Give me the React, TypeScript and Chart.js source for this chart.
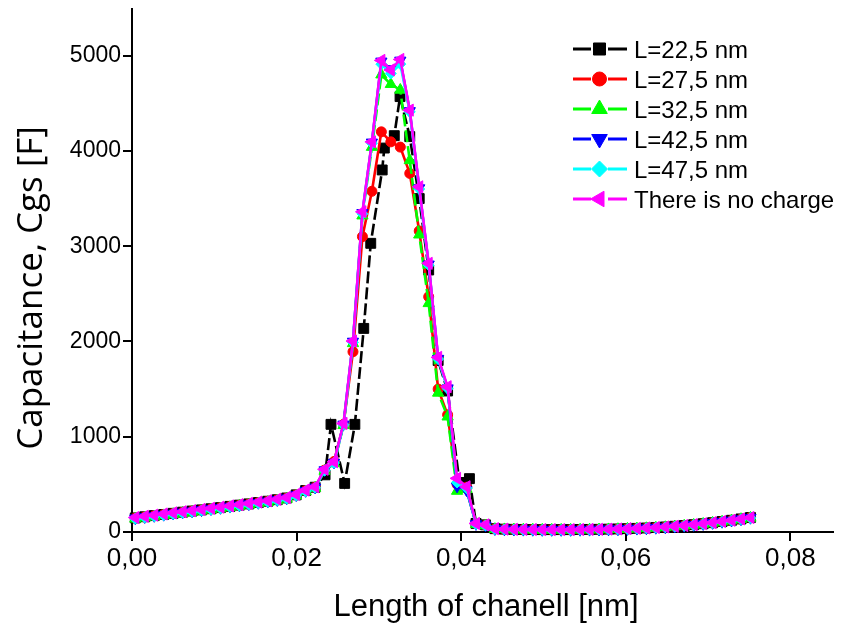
import React, { useEffect, useRef } from "react";
import { Chart, registerables } from "chart.js";
import { drawPoint } from "chart.js/helpers";

Chart.register(...registerables);

// ---- data ----
const X = [
  0.0004, 0.00155, 0.0027, 0.00385, 0.005, 0.00615, 0.0073, 0.00845, 0.0096, 0.01075,
  0.0119, 0.01305, 0.0142, 0.01535, 0.0165, 0.01765, 0.0188, 0.01995, 0.0211, 0.02225,
  0.0234, 0.02455, 0.0257, 0.02685, 0.028, 0.02915, 0.0303, 0.03145, 0.0326, 0.03375,
  0.0349, 0.03605, 0.0372, 0.03835, 0.0395, 0.04065, 0.0418, 0.04295, 0.0441, 0.04525,
  0.0464, 0.04755, 0.0487, 0.04985, 0.051, 0.05215, 0.0533, 0.05445, 0.0556, 0.05675,
  0.0579, 0.05905, 0.0602, 0.06135, 0.0625, 0.06365, 0.0648, 0.06595, 0.0671, 0.06825,
  0.0694, 0.07055, 0.0717, 0.07285, 0.074, 0.07515,
];

const X_L22 = [
  0.0004, 0.00155, 0.0027, 0.00385, 0.005, 0.00615, 0.0073, 0.00845, 0.0096, 0.01075,
  0.0119, 0.01305, 0.0142, 0.01535, 0.0165, 0.01765, 0.0188, 0.01995, 0.0211, 0.02225,
  0.02346, 0.02418, 0.02584, 0.02708, 0.02816, 0.02901, 0.0304, 0.03066, 0.03187, 0.03257,
  0.03375, 0.0349, 0.03605, 0.0372, 0.03835, 0.0398, 0.0410, 0.0418, 0.04295, 0.0441,
  0.04525, 0.0464, 0.04755, 0.0487, 0.04985, 0.051, 0.05215, 0.0533, 0.05445, 0.0556,
  0.05675, 0.0579, 0.05905, 0.0602, 0.06135, 0.0625, 0.06365, 0.0648, 0.06595, 0.0671,
  0.06825, 0.0694, 0.07055, 0.0717, 0.07285, 0.074, 0.07515,
];

const C_L22 = [
  148, 160, 172, 184, 196, 208, 220, 232, 244, 256, 269, 282, 295, 309, 323, 339, 357, 390, 435, 470,
  600, 1130, 510, 1130, 2137, 3030, 3800, 4030, 4160, 4570,
  4150, 3500, 2750, 1800, 1480, 520, 560, 90, 75, 35,
  30, 28, 27, 26, 25, 25, 25, 25, 26, 27,
  28, 30, 32, 35, 38, 42, 47, 53, 60, 68,
  77, 87, 98, 110, 123, 137, 152,
];

const C_L27 = [
  146, 159, 171, 183, 195, 207, 219, 231, 243, 255, 268, 281, 294, 308, 322, 338, 356, 389, 434, 470,
  650, 740, 1130, 1892, 3100, 3576, 4200, 4095, 4040, 3764,
  3160, 2469, 1500, 1230, 500, 470, 88, 72, 33, 29,
  27, 26, 25, 24, 24, 24, 24, 25, 26, 27,
  29, 31, 34, 37, 41, 46, 52, 59, 67, 76,
  86, 97, 109, 122, 136, 151,
];

const C_L32 = [
  138, 150, 162, 174, 186, 198, 210, 222, 234, 246, 259, 272, 285, 299, 313, 329, 347, 380, 425, 462,
  640, 720, 1120, 1980, 3320, 4040, 4800, 4700, 4640, 3900,
  3120, 2400, 1460, 1210, 430, 450, 80, 66, 30, 27,
  25, 24, 23, 22, 22, 22, 22, 23, 24, 25,
  27, 29, 32, 35, 39, 44, 50, 57, 65, 74,
  84, 95, 107, 120, 134, 148,
];

const C_L42 = [
  145, 158, 170, 182, 194, 206, 218, 230, 242, 254, 267, 280, 293, 307, 321, 337, 355, 388, 432, 468,
  650, 730, 1130, 2000, 3350, 4090, 4940, 4860, 4950, 4420,
  3610, 2810, 1820, 1510, 480, 440, 85, 70, 32, 28,
  26, 25, 24, 23, 23, 23, 23, 24, 25, 26,
  28, 30, 33, 36, 40, 45, 51, 58, 66, 75,
  85, 96, 108, 121, 135, 150,
];

const C_L47 = [
  140, 153, 165, 177, 189, 201, 213, 225, 237, 249, 262, 275, 288, 302, 316, 332, 350, 383, 428, 465,
  645, 725, 1125, 1990, 3340, 4080, 4910, 4813, 4911, 4410,
  3600, 2800, 1815, 1505, 520, 460, 82, 68, 30, 27,
  25, 24, 23, 22, 22, 22, 22, 23, 24, 25,
  27, 29, 32, 35, 39, 44, 50, 57, 65, 74,
  84, 95, 107, 120, 134, 148,
];

const C_NOCHARGE = [
  152, 165, 177, 189, 201, 213, 225, 237, 249, 261, 274, 287, 300, 314, 328, 344, 362, 395, 440, 475,
  658, 738, 1140, 2004, 3361, 4095, 4950, 4850, 4960, 4428,
  3623, 2820, 1833, 1525, 563, 475, 90, 75, 35, 30,
  28, 27, 26, 25, 25, 25, 25, 26, 27, 28,
  30, 32, 35, 38, 42, 47, 53, 60, 68, 77,
  87, 98, 110, 123, 137, 152,
];

const SERIES_LABELS = [
  "L=22,5 nm",
  "L=27,5 nm",
  "L=32,5 nm",
  "L=42,5 nm",
  "L=47,5 nm",
  "There is no charge",
];

const X_TITLE = "Length of chanell [nm]";
const Y_TITLE = "Capacitance, Cgs [F]";
const X_MIN = 0;
const X_MAX = 0.0853;
const X_STEP = 0.01;
const Y_MIN = 0;
const Y_MAX = 5500;
const Y_STEP = 500;

// ---- styles ----
const STYLES = [
  { color: "#000000", point: "rect", rot: 0, r: 7, lr: 8.5, dash: [12, 4] },
  { color: "#ff0000", point: "circle", rot: 0, r: 5, lr: 7, dash: [] },
  { color: "#00ff00", point: "triangle", rot: 0, r: 6.5, lr: 9, dash: [12, 4] },
  { color: "#0000ff", point: "triangle", rot: 180, r: 6.5, lr: 9, dash: [] },
  { color: "#00ffff", point: "rectRot", rot: 0, r: 5.5, lr: 8, dash: [] },
  { color: "#ff00ff", point: "triangle", rot: -90, r: 7, lr: 9, dash: [] },
];

const FONT = "'Liberation Sans', Arial, sans-serif";

function pairs(xs: number[], ys: number[]) {
  return ys.map((y, i) => ({ x: xs[i], y }));
}

const axesPlugin = {
  id: "customAxes",
  beforeDatasetsDraw(chart: any) {
    const { ctx, chartArea, scales } = chart;
    const { left, right, top, bottom } = chartArea;
    const xs = scales.x;
    const ys = scales.y;
    ctx.save();
    ctx.strokeStyle = "#000";
    ctx.lineWidth = 2;
    ctx.beginPath();
    ctx.moveTo(left, top);
    ctx.lineTo(left, bottom);
    ctx.moveTo(left - 1, bottom);
    ctx.lineTo(right, bottom);
    ctx.stroke();
    ctx.beginPath();
    xs.ticks.forEach((t: any) => {
      const px = Math.round(xs.getPixelForValue(t.value));
      const major = Math.round(t.value / X_STEP) % 2 === 0;
      ctx.moveTo(px, bottom);
      ctx.lineTo(px, bottom + (major ? 9 : 5));
    });
    ys.ticks.forEach((t: any) => {
      const py = Math.round(ys.getPixelForValue(t.value));
      const major = Math.round(t.value / Y_STEP) % 2 === 0;
      ctx.moveTo(left, py);
      ctx.lineTo(left - (major ? 9 : 5), py);
    });
    ctx.stroke();
    ctx.restore();
  },
  afterDraw(chart: any) {
    const { ctx } = chart;
    ctx.save();
    ctx.fillStyle = "#000";
    // x title
    ctx.font = `31px ${FONT}`;
    ctx.textAlign = "center";
    ctx.textBaseline = "alphabetic";
    ctx.fillText(X_TITLE, 486, 616);
    // y title
    ctx.save();
    ctx.translate(42, 288);
    ctx.rotate(-Math.PI / 2);
    ctx.font = `35px 'Open Sans', ${FONT}`;
    ctx.textAlign = "center";
    ctx.fillText(Y_TITLE, 0, 0);
    ctx.restore();
    // legend
    ctx.font = `24px ${FONT}`;
    ctx.textAlign = "left";
    SERIES_LABELS.forEach((label, k) => {
      const st = STYLES[k];
      const cy = 49 + 30 * k;
      ctx.strokeStyle = st.color;
      ctx.fillStyle = st.color;
      ctx.lineWidth = 3;
      ctx.setLineDash([]);
      ctx.beginPath();
      ctx.moveTo(573, cy);
      ctx.lineTo(591, cy);
      ctx.moveTo(608, cy);
      ctx.lineTo(627, cy);
      ctx.stroke();
      ctx.lineWidth = 1;
      drawPoint(ctx, { pointStyle: st.point, rotation: st.rot, radius: st.lr, borderWidth: 1 } as any, 599.5, cy);
      ctx.fillStyle = "#000";
      ctx.fillText(label, 634, cy + 8.5);
    });
    ctx.restore();
  },
};

export default function App() {
  const ref = useRef<HTMLCanvasElement | null>(null);
  useEffect(() => {
    if (!ref.current) return;
    const xsets = [X_L22, X, X, X, X, X];
    const ysets = [C_L22, C_L27, C_L32, C_L42, C_L47, C_NOCHARGE];
    const datasets = SERIES_LABELS.map((label, k) => {
      const st = STYLES[k];
      return {
        label,
        data: pairs(xsets[k], ysets[k]),
        borderColor: st.color,
        backgroundColor: st.color,
        pointBackgroundColor: st.color,
        pointBorderColor: st.color,
        pointBorderWidth: 1,
        pointStyle: st.point,
        pointRotation: st.rot,
        pointRadius: st.r,
        borderWidth: 2.6,
        borderDash: st.dash,
        tension: 0,
        fill: false,
        showLine: true,
        order: 5 - k,
        clip: false,
      };
    });
    const chart = new Chart(ref.current, {
      type: "scatter",
      data: { datasets: datasets as any },
      options: {
        responsive: false,
        animation: false,
        devicePixelRatio: 1,
        layout: { padding: { left: 0, right: 2, top: 7, bottom: 0 } },
        plugins: { legend: { display: false }, tooltip: { enabled: false } },
        scales: {
          x: {
            type: "linear",
            min: X_MIN,
            max: X_MAX,
            grid: { display: false, drawTicks: false },
            border: { display: false },
            afterFit: (s: any) => {
              s.height = 95;
              s.paddingLeft = 0;
              s.paddingRight = 0;
            },
            ticks: {
              stepSize: X_STEP,
              includeBounds: false,
              autoSkip: false,
              maxRotation: 0,
              minRotation: 0,
              padding: 11,
              color: "#000",
              font: { family: FONT, size: 26 },
              callback: (v: any) => {
                const n = Number(v);
                return Math.round(n / X_STEP) % 2 === 0 ? n.toFixed(2).replace(".", ",") : null;
              },
            },
          },
          y: {
            type: "linear",
            min: Y_MIN,
            max: Y_MAX,
            grid: { display: false, drawTicks: false },
            border: { display: false },
            afterFit: (s: any) => {
              s.width = 132;
              s.paddingTop = 0;
              s.paddingBottom = 0;
            },
            ticks: {
              stepSize: Y_STEP,
              includeBounds: false,
              autoSkip: false,
              padding: 11,
              color: "#000",
              font: { family: FONT, size: 23 },
              callback: (v: any) => {
                const n = Number(v);
                return Math.round(n / Y_STEP) % 2 === 0 ? String(n) : null;
              },
            },
          },
        },
      },
      plugins: [axesPlugin],
    });
    return () => chart.destroy();
  }, []);
  return (
    <div style={{ position: "absolute", left: 0, top: 0, width: 842, height: 627, background: "#fff" }}>
      <canvas ref={ref} width={842} height={627} style={{ display: "block", width: 842, height: 627 }} />
    </div>
  );
}
